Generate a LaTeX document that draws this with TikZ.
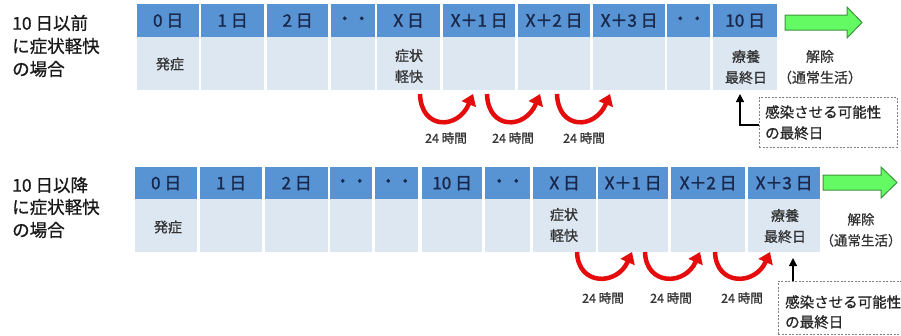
\documentclass[tikz,border=0pt]{standalone}
\usepackage{fontspec}
\setmainfont{Noto Sans CJK JP}
\newfontfamily\hdrfont[FakeBold=1.5]{Noto Sans CJK JP}
\newfontfamily\txtfont[FakeBold=0.8]{Noto Sans CJK JP}
\usetikzlibrary{arrows.meta}
\definecolor{hdrblue}{RGB}{88,148,212}
\definecolor{bodyblue}{RGB}{221,231,242}
\definecolor{navy}{RGB}{25,40,75}
\definecolor{grn}{RGB}{100,250,100}
\definecolor{grnd}{RGB}{60,150,60}
\definecolor{arrred}{RGB}{228,12,12}
\tikzset{
 hdr/.style={fill=hdrblue, anchor=north west, inner sep=0pt, minimum height=33, text=navy, font=\hdrfont\fontsize{17}{19}\selectfont},
 bodycell/.style={fill=bodyblue, anchor=north west, inner sep=0pt, minimum height=53},
 celltext/.style={text=black!80, font=\txtfont\fontsize{14}{21}\selectfont, align=center, inner sep=0pt},
 sidelabel/.style={anchor=west, font=\txtfont\fontsize{17.5}{23}\selectfont, inner sep=0pt, text=black!90},
 hourlbl/.style={font=\txtfont\fontsize{12.5}{14}\selectfont, text=black!80, inner sep=0pt},
 uarrow/.style={draw=arrred, line width=4.5pt, -{Triangle[length=11pt,width=15pt]}},
 notebox/.style={draw=gray, dash pattern=on 2pt off 1.5pt, line width=0.7pt, anchor=north west, inner sep=0pt},
 notetext/.style={anchor=west, font=\txtfont\fontsize{14.5}{18}\selectfont, inner sep=0pt, text=black!85},
 uparrow/.style={draw=black, line width=1.2pt, -{Triangle[length=8pt,width=8pt]}},
 greenarrow/.style={fill=grn, draw=grnd, line width=1pt}
}
\begin{document}
\begin{tikzpicture}[x=1pt,y=-1pt]
\useasboundingbox[fill=white] (0,0) rectangle (901,335);

% left labels
\node[sidelabel] (l1) at (12,23) {10 日以前};
\node[sidelabel] (l2) at (12,46) {に症状軽快};
\node[sidelabel] (l3) at (12,69) {の場合};
\node[sidelabel] (l4) at (12,185) {10 日以降};
\node[sidelabel] (l5) at (12,207) {に症状軽快};
\node[sidelabel] (l6) at (12,230) {の場合};

% top row cells
\foreach \xa/\xb/\lab/\nm in {137/199/0 日/a0,201/264/1 日/a1,267/328/2 日/a2,331/375/・・/a3,377/440/X 日/a4,443/515/X＋1 日/a5,518/590/X＋2 日/a6,593/665/X＋3 日/a7,667/710/・・/a8,713/777/10 日/a9}{
  \pgfmathsetmacro\w{\xb-\xa}
  \node[bodycell, minimum width=\w] (b\nm) at (\xa,37) {};
  \node[hdr, minimum width=\w] (h\nm) at (\xa,4) {\lab};
}
% bottom row cells
\foreach \xa/\xb/\lab/\nm in {135/197/0 日/c0,200/262/1 日/c1,265/328/2 日/c2,330/372/・・/c3,375/418/・・/c4,422/482/10 日/c5,485/530/・・/c6,533/596/X 日/c7,598/668/X＋1 日/c8,671/745/X＋2 日/c9,748/820/X＋3 日/c10}{
  \pgfmathsetmacro\w{\xb-\xa}
  \node[bodycell, minimum width=\w] (b\nm) at (\xa,199) {};
  \node[hdr, minimum width=\w, minimum height=32] (h\nm) at (\xa,167) {\lab};
}

% body texts
\node[celltext] (t1) at (170,64) {発症};
\node[celltext] (t2) at (409,66) {症状\\軽快};
\node[celltext] (t3) at (746,67) {療養\\最終日};
\node[celltext] (t4) at (820,67) {解除\\（通常生活）};
\node[celltext] (u1) at (168,227) {発症};
\node[celltext] (u2) at (564,225) {症状\\軽快};
\node[celltext] (u3) at (785,226) {療養\\最終日};
\node[celltext, font=\txtfont\fontsize{13.5}{21}\selectfont] (u4) at (861,230) {解除\\（通常生活）};

% green arrows
\draw[greenarrow] (785,15) -- (847,15) -- (847,7) -- (862,22.5) -- (847,38) -- (847,30) -- (785,30) -- cycle;
\draw[greenarrow] (823,175) -- (881,175) -- (881,167) -- (897,182.5) -- (881,198) -- (881,190) -- (823,190) -- cycle;

% red U arrows
\foreach \sx/\sy/\wd/\dp in {420/94/53/36,487/94/53/36,557/94/53/36,577/252/55/34,645/252/55/34,715/252/55/34}{
  \pgfmathsetmacro\ex{\sx+\wd}
  \pgfmathsetmacro\ca{\sx+1}
  \pgfmathsetmacro\cb{\sx+\wd-15}
  \pgfmathsetmacro\cy{\sy+\dp}
  \draw[uarrow] (\sx,\sy) .. controls (\ca,\cy) and (\cb,\cy) .. (\ex,\sy);
}

% hour labels
\foreach \x/\y/\nm in {446/138/hr1,513/138/hr2,584/138/hr3,603/298/hr4,671/298/hr5,742/298/hr6}{
  \node[hourlbl] (\nm) at (\x,\y) {24 時間};
}

% note boxes
\node[notebox, minimum width=138, minimum height=50] (nb1) at (759,97) {};
\node[notetext] (n1a) at (765,112) {感染させる可能性};
\node[notetext] (n1b) at (765,133) {の最終日};
\coordinate (k1) at (759,125);
\coordinate (t1tip) at (740,94);
\draw[uparrow] (k1) -| (t1tip);

\node[notebox, minimum width=130, minimum height=53] (nb2) at (778,281) {};
\node[notetext] (n2a) at (785,302) {感染させる可能性};
\node[notetext] (n2b) at (785,322) {の最終日};
\coordinate (t2tip) at (793,258);
\draw[uparrow] (nb2.north -| t2tip) -- (t2tip);
\end{tikzpicture}
\end{document}
